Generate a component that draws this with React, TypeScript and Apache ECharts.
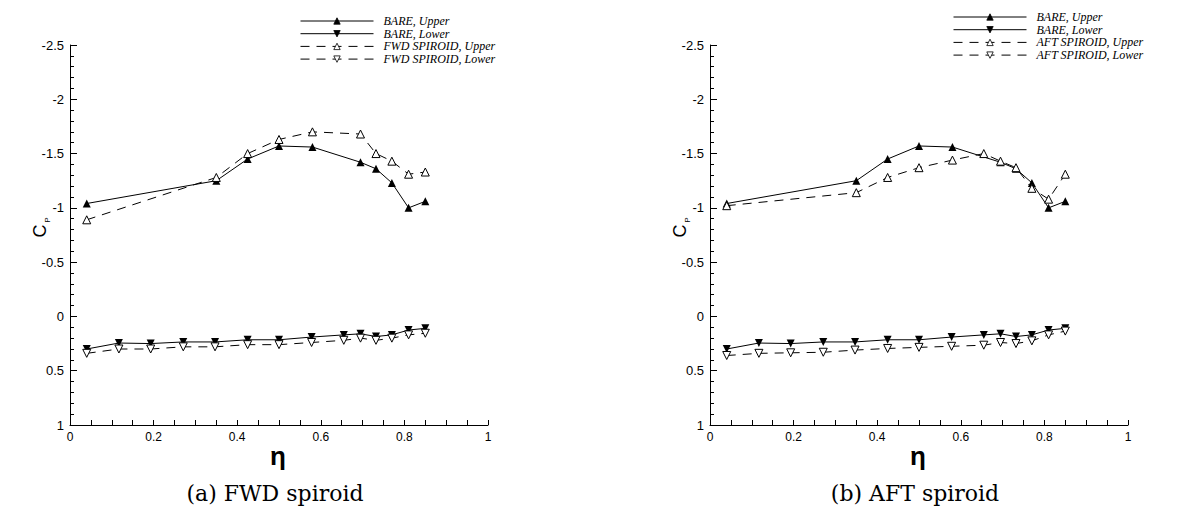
import React, { useEffect, useRef } from "react";
import * as echarts from "echarts";

// Spanwise stations (eta) of the pressure taps
const ETA_UPPER = [0.04, 0.35, 0.425, 0.5, 0.58, 0.695, 0.732, 0.77, 0.81, 0.85];
const ETA_AFT_UPPER = [0.04, 0.35, 0.425, 0.5, 0.58, 0.655, 0.695, 0.732, 0.77, 0.81, 0.85];
const ETA_LOWER = [0.04, 0.117, 0.193, 0.271, 0.347, 0.425, 0.5, 0.578, 0.655, 0.695, 0.732, 0.77, 0.81, 0.85];

// Pressure coefficient Cp
const BARE_UPPER = [-1.04, -1.25, -1.45, -1.57, -1.56, -1.42, -1.36, -1.23, -1.0, -1.06];
const BARE_LOWER = [0.3, 0.245, 0.25, 0.235, 0.235, 0.215, 0.215, 0.19, 0.17, 0.16, 0.185, 0.17, 0.125, 0.11];
const FWD_UPPER = [-0.89, -1.28, -1.5, -1.63, -1.7, -1.68, -1.5, -1.43, -1.31, -1.33];
const FWD_LOWER = [0.34, 0.3, 0.3, 0.28, 0.28, 0.26, 0.26, 0.24, 0.22, 0.2, 0.22, 0.2, 0.17, 0.155];
const AFT_UPPER = [-1.02, -1.14, -1.28, -1.37, -1.44, -1.5, -1.43, -1.37, -1.18, -1.08, -1.31];
const AFT_LOWER = [0.36, 0.34, 0.335, 0.33, 0.31, 0.295, 0.285, 0.275, 0.265, 0.24, 0.25, 0.225, 0.17, 0.135];

// Axis ranges
const CP_MIN = -2.5;
const CP_MAX = 1;
const CP_STEP = 0.5;
const ETA_MIN = 0;
const ETA_MAX = 1;
const ETA_STEP = 0.2;

const PANELS = [
  { left: 70, caption: "(a) FWD spiroid", legendLeft: 300, legendTop: 15, spiroid: "FWD SPIROID" },
  { left: 710, caption: "(b) AFT spiroid", legendLeft: 953, legendTop: 11, spiroid: "AFT SPIROID" },
];
const PLOT_W = 418;
const PLOT_TOP = 45;
const PLOT_H = 380;

function lineSeries(
  name: string,
  eta: number[],
  cp: number[],
  idx: number,
  dashed: boolean,
  filled: boolean,
  down: boolean
) {
  return {
    type: "line",
    name,
    xAxisIndex: idx,
    yAxisIndex: idx,
    data: eta.map((e, i) => [e, cp[i]]),
    symbol: "triangle",
    symbolRotate: down ? 180 : 0,
    symbolSize: 8,
    showAllSymbol: true,
    lineStyle: { color: "#000", width: 1, type: dashed ? [9, 7] : "solid" },
    itemStyle: {
      color: filled ? "#000" : "#fff",
      borderColor: "#000",
      borderWidth: filled ? 0 : 1,
    },
    z: filled ? 3 : 4,
  };
}

export default function App() {
  const ref = useRef<HTMLDivElement>(null);

  useEffect(() => {
    if (!ref.current) return;
    const chart = echarts.init(ref.current, null, { renderer: "svg" });

    const grids = PANELS.map((p) => ({
      left: p.left,
      top: PLOT_TOP,
      width: PLOT_W,
      height: PLOT_H,
      containLabel: false,
    }));

    const tickLabelFont = { fontFamily: "Liberation Sans", color: "#000" };

    const xAxes = PANELS.map((_, i) => ({
      type: "value",
      gridIndex: i,
      min: ETA_MIN,
      max: ETA_MAX,
      interval: ETA_STEP,
      axisLine: { show: true, onZero: false, lineStyle: { color: "#000", width: 1 } },
      axisTick: { show: true, inside: true, length: 5, lineStyle: { color: "#000" } },
      minorTick: { show: true, splitNumber: 4, length: 5, lineStyle: { color: "#000" } },
      axisLabel: { ...tickLabelFont, fontSize: 12, margin: 6 },
      splitLine: { show: false },
    }));

    const yAxes = PANELS.map((_, i) => ({
      type: "value",
      gridIndex: i,
      min: CP_MIN,
      max: CP_MAX,
      interval: CP_STEP,
      inverse: true,
      axisLine: { show: true, onZero: false, lineStyle: { color: "#000", width: 1 } },
      axisTick: { show: true, inside: true, length: 7, lineStyle: { color: "#000" } },
      minorTick: { show: true, splitNumber: 5, length: 4, lineStyle: { color: "#000" } },
      axisLabel: { ...tickLabelFont, fontSize: 13, margin: 6 },
      splitLine: { show: false },
    }));

    const series = [
      lineSeries("BARE, Upper", ETA_UPPER, BARE_UPPER, 0, false, true, false),
      lineSeries("BARE, Lower", ETA_LOWER, BARE_LOWER, 0, false, true, true),
      lineSeries("FWD SPIROID, Upper", ETA_UPPER, FWD_UPPER, 0, true, false, false),
      lineSeries("FWD SPIROID, Lower", ETA_LOWER, FWD_LOWER, 0, true, false, true),
      lineSeries("BARE, Upper", ETA_UPPER, BARE_UPPER, 1, false, true, false),
      lineSeries("BARE, Lower", ETA_LOWER, BARE_LOWER, 1, false, true, true),
      lineSeries("AFT SPIROID, Upper", ETA_AFT_UPPER, AFT_UPPER, 1, true, false, false),
      lineSeries("AFT SPIROID, Lower", ETA_LOWER, AFT_LOWER, 1, true, false, true),
    ];

    const legends = PANELS.map((p) => ({
      orient: "vertical",
      left: p.legendLeft,
      top: p.legendTop,
      itemWidth: 73,
      itemHeight: 8,
      itemGap: 0.7,
      padding: 0,
      selectedMode: false,
      lineStyle: { width: 1 },
      itemStyle: { borderWidth: 0.8 },
      textStyle: {
        fontFamily: "Liberation Serif",
        fontStyle: "italic",
        fontSize: 12,
        lineHeight: 12,
        color: "#000",
        padding: [0, 0, 0, 5],
      },
      data: ["BARE, Upper", "BARE, Lower", `${p.spiroid}, Upper`, `${p.spiroid}, Lower`],
    }));

    const graphics: any[] = [];
    PANELS.forEach((p) => {
      const cx = p.left + PLOT_W / 2;
      // Cp label, rotated
      graphics.push({
        type: "text",
        x: p.left - 30,
        y: 231,
        rotation: Math.PI / 2,
        style: {
          text: "C",
          font: "18px 'Liberation Sans'",
          fill: "#000",
          align: "center",
          verticalAlign: "middle",
        },
      });
      graphics.push({
        type: "text",
        x: p.left - 23,
        y: 220,
        rotation: Math.PI / 2,
        style: {
          text: "P",
          font: "8px 'Liberation Sans'",
          fill: "#000",
          align: "center",
          verticalAlign: "middle",
        },
      });
      // eta label
      graphics.push({
        type: "text",
        x: cx - 1,
        y: 456,
        style: {
          text: "η",
          font: "bold 26px 'Liberation Sans'",
          fill: "#000",
          align: "center",
          verticalAlign: "middle",
        },
      });
      // sub-figure caption
      graphics.push({
        type: "text",
        x: cx - 4,
        y: 493,
        style: {
          text: p.caption,
          font: "22px 'DejaVu Serif'",
          fill: "#000",
          align: "center",
          verticalAlign: "middle",
        },
      });
    });

    chart.setOption({
      animation: false,
      backgroundColor: "#fff",
      grid: grids,
      xAxis: xAxes,
      yAxis: yAxes,
      legend: legends,
      series,
      graphic: graphics,
    });

    return () => chart.dispose();
  }, []);

  return (
    <div
      ref={ref}
      style={{ position: "fixed", left: 0, top: 0, width: 1193, height: 512 }}
    />
  );
}
